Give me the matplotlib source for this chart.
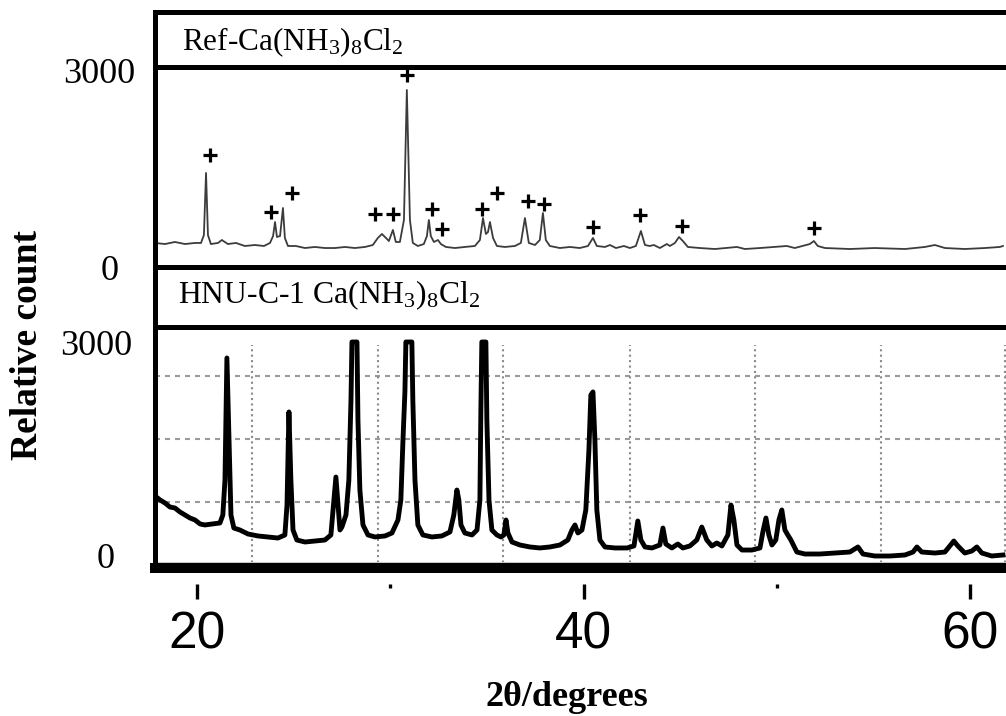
import matplotlib.pyplot as plt

plt.rcParams['font.family'] = ['Liberation Serif', 'DejaVu Serif']
plt.rcParams['mathtext.fontset'] = 'custom'
plt.rcParams['mathtext.rm'] = 'Liberation Serif'
plt.rcParams['mathtext.it'] = 'Liberation Serif:italic'
plt.rcParams['mathtext.bf'] = 'Liberation Serif:bold'

# reference pattern (2theta in degrees, relative count)
ref_2theta = [17.83, 18.35, 18.86, 19.38, 19.90, 20.21, 20.36, 20.47, 20.57, 20.72,
              21.09, 21.29, 21.60, 22.02, 22.48, 23.00, 23.47, 23.78, 23.94, 24.04,
              24.14, 24.30, 24.45, 24.55, 24.71, 25.12, 25.59, 26.10, 26.62, 27.14,
              27.66, 28.17, 28.69, 29.10, 29.36, 29.57, 29.78, 29.93, 30.14, 30.29,
              30.50, 30.71, 30.86, 31.02, 31.17, 31.43, 31.74, 31.90, 32.00, 32.10,
              32.26, 32.47, 32.62, 32.88, 33.35, 33.86, 34.38, 34.64, 34.80, 34.95,
              35.06, 35.16, 35.32, 35.52, 35.93, 36.45, 36.76, 36.97, 37.17, 37.49,
              37.74, 37.90, 38.05, 38.26, 38.78, 39.30, 39.81, 40.23, 40.49, 40.69,
              41.11, 41.37, 41.68, 42.09, 42.40, 42.71, 42.97, 43.18, 43.43, 43.64,
              43.95, 44.31, 44.47, 44.73, 44.94, 45.14, 45.40, 46.02, 46.80, 47.94,
              48.35, 49.13, 50.52, 50.93, 51.71, 51.92, 52.12, 52.49, 53.78, 55.07,
              56.63, 57.66, 58.18, 58.70, 59.73, 60.77, 61.54, 61.70]
ref_counts = [366, 350, 381, 350, 366, 366, 487, 1432, 487, 350,
              366, 411, 350, 366, 320, 335, 320, 366, 472, 685,
              457, 472, 899, 442, 320, 320, 289, 305, 289, 289,
              305, 289, 305, 335, 442, 503, 442, 396, 564, 381,
              381, 716, 2696, 716, 366, 320, 350, 472, 716, 472,
              381, 411, 350, 305, 289, 305, 320, 411, 746, 503,
              533, 685, 442, 320, 305, 320, 366, 746, 366, 335,
              411, 822, 411, 320, 289, 305, 289, 320, 442, 320,
              305, 335, 289, 320, 289, 320, 548, 335, 320, 335,
              289, 350, 320, 366, 457, 396, 305, 289, 274, 305,
              274, 289, 320, 289, 350, 396, 320, 289, 274, 289,
              274, 305, 335, 289, 274, 289, 305, 320]

# "+" marks over the indexed reflections
mark_2theta = [20.67, 23.83, 24.91, 29.21, 30.14, 30.86, 32.16, 32.67,
               34.74, 35.52, 37.12, 37.95, 40.49, 42.92, 45.09, 51.92]
mark_counts = [1706, 838, 1127, 807, 807, 2924, 883, 579,
               883, 1127, 1005, 960, 609, 792, 624, 594]

# measured HNU-C-1 sample (tops saturate near 3000)
hnu_2theta = [17.83, 18.09, 18.35, 18.60, 18.86, 19.12, 19.38, 19.64, 19.90, 20.16,
              20.41, 20.78, 21.19, 21.34, 21.45, 21.55, 21.66, 21.76, 21.91, 22.22,
              22.64, 23.16, 23.67, 24.19, 24.55, 24.66, 24.76, 24.86, 24.97, 25.17,
              25.59, 26.10, 26.62, 26.93, 27.09, 27.19, 27.30, 27.40, 27.50, 27.71,
              27.86, 27.97, 28.02, 28.28, 28.33, 28.43, 28.59, 28.85, 29.21, 29.73,
              30.09, 30.40, 30.55, 30.66, 30.76, 30.81, 31.12, 31.17, 31.28, 31.43,
              31.69, 32.16, 32.67, 33.09, 33.29, 33.45, 33.55, 33.66, 33.86, 34.23,
              34.49, 34.64, 34.69, 34.74, 34.95, 35.00, 35.11, 35.26, 35.52, 35.73,
              35.88, 35.99, 36.09, 36.30, 36.71, 37.23, 37.74, 38.26, 38.78, 39.19,
              39.40, 39.56, 39.71, 39.92, 40.12, 40.28, 40.38, 40.49, 40.59, 40.69,
              40.85, 41.11, 41.63, 42.25, 42.61, 42.81, 42.97, 43.18, 43.54, 43.95,
              44.11, 44.26, 44.57, 44.88, 45.14, 45.50, 45.86, 46.12, 46.38, 46.64,
              46.90, 47.16, 47.47, 47.63, 47.78, 47.94, 48.20, 48.71, 49.13, 49.28,
              49.44, 49.59, 49.75, 49.95, 50.11, 50.26, 50.42, 50.57, 50.73, 51.04,
              51.45, 52.23, 53.00, 53.78, 54.20, 54.46, 55.07, 55.85, 56.63, 57.05,
              57.25, 57.50, 58.18, 58.70, 58.95, 59.16, 59.37, 59.73, 60.09, 60.35,
              60.61, 61.12, 61.70]
hnu_counts = [845, 789, 746, 690, 676, 620, 577, 535, 507, 451,
              437, 451, 465, 577, 1070, 2788, 1633, 577, 394, 366,
              310, 282, 268, 253, 296, 718, 2028, 1070, 366, 225,
              197, 211, 225, 296, 789, 1112, 718, 366, 408, 577,
              1070, 2197, 3013, 3013, 1915, 929, 437, 296, 268, 282,
              324, 507, 789, 1633, 2310, 3013, 3013, 2197, 1070, 437,
              296, 268, 282, 338, 577, 929, 789, 437, 324, 296,
              366, 789, 2056, 3013, 3013, 1915, 789, 366, 296, 268,
              296, 507, 324, 197, 155, 127, 113, 127, 155, 225,
              366, 437, 324, 366, 648, 1492, 2267, 2310, 1633, 648,
              225, 127, 113, 113, 141, 493, 225, 127, 113, 155,
              394, 169, 113, 169, 113, 141, 225, 408, 225, 141,
              183, 141, 296, 718, 507, 155, 84, 84, 113, 338,
              535, 296, 155, 225, 507, 648, 366, 296, 225, 56,
              28, 28, 42, 56, 127, 28, 0, 0, 14, 56,
              127, 56, 42, 56, 141, 211, 141, 42, 70, 127,
              42, 0, 14]

# instrument grid of the sample scan
grid_2theta = [22.85, 29.36, 35.83, 42.40, 48.87, 55.39, 61.80]
grid_counts = [760, 1647, 2534]

major_ticks = [20, 40, 60]
minor_ticks = [30, 50]
ref_title = r'Ref-Ca(NH$_3$)$_8$Cl$_2$'
hnu_title = r'HNU-C-1 Ca(NH$_3$)$_8$Cl$_2$'

W, H = 1006, 716
XLIM = (17.83, 62.17)


def px_box(x0, y0, x1, y1):
    return [x0 / W, 1 - y1 / H, (x1 - x0) / W, (y1 - y0) / H]


def frame(ax, lw=3.6):
    ax.set_xticks([])
    ax.set_yticks([])
    for s in ax.spines.values():
        s.set_linewidth(lw)
        s.set_color('black')


fig = plt.figure(figsize=(W / 100, H / 100), dpi=100)

ax_rl = fig.add_axes(px_box(155, 12, 1012, 67))
ax_ref = fig.add_axes(px_box(155, 67, 1012, 267))
ax_hl = fig.add_axes(px_box(155, 267, 1012, 327))
ax_hnu = fig.add_axes(px_box(155, 327, 1012, 568))
ax_scale = fig.add_axes(px_box(155, 583, 1012, 584))

for ax in (ax_rl, ax_ref, ax_hl, ax_hnu):
    frame(ax)
ax_hnu.spines['bottom'].set_linewidth(7.2)

ax_rl.text(0.031, 0.30, ref_title, transform=ax_rl.transAxes, fontsize=22.5, va='baseline')
ax_hl.text(0.027, 0.40, hnu_title, transform=ax_hl.transAxes, fontsize=22.8, va='baseline')

# reference pattern
ax_ref.plot(ref_2theta, ref_counts, color='#3c3c3c', lw=1.3)
ax_ref.plot(mark_2theta, mark_counts, ls='none', marker='+', ms=10, mew=2.3, color='black')
ax_ref.set_xlim(*XLIM)
ax_ref.set_ylim(0, 3046)

# sample pattern with its dotted grid
for g in grid_counts:
    ax_hnu.axhline(g, color='#9a9a9a', lw=1.5, dashes=(2.4, 2.4), zorder=1)
ax_hnu.vlines(grid_2theta, -169, 2971, color='#8a8a8a', lw=1.5, linestyles=(0, (1, 1.6)), zorder=1)
ax_hnu.axhline(-84, color='#c8c8c8', lw=0.8, zorder=1)
ax_hnu.plot(hnu_2theta, hnu_counts, color='black', lw=3.5, zorder=3)
ax_hnu.set_xlim(*XLIM)
ax_hnu.set_ylim(-169, 3224)

# y labels, placed per panel
ylab = dict(fontsize=26, ha='right', va='center_baseline')
ax_ref.text(-0.023, 3000, '3000', transform=ax_ref.get_yaxis_transform(), **ylab)
ax_ref.text(-0.043, 0, '0', transform=ax_ref.get_yaxis_transform(), **ylab)
ax_hnu.text(-0.026, 3000, '3000', transform=ax_hnu.get_yaxis_transform(), **ylab)
ax_hnu.text(-0.047, 0, '0', transform=ax_hnu.get_yaxis_transform(), **ylab)

# detached 2theta scale under the panels
ax_scale.set_xlim(*XLIM)
ax_scale.set_ylim(0, 1)
ax_scale.set_yticks([])
for s in ax_scale.spines.values():
    s.set_visible(False)
ax_scale.set_xticks(major_ticks)
ax_scale.set_xticklabels([str(t) for t in major_ticks], family='Liberation Sans', fontsize=37)
ax_scale.set_xticks(minor_ticks, minor=True)
ax_scale.tick_params(axis='x', which='major', direction='out', length=11, width=2.4, pad=8)
ax_scale.tick_params(axis='x', which='minor', direction='out', length=3, width=2.4)
ax_scale.patch.set_visible(False)

fig.text(28 / W, 1 - 345 / H, 'Relative count', rotation=90, fontsize=27,
         fontweight='bold', ha='center', va='center')
fig.text(567 / W, 1 - 697 / H, '2θ/degrees', fontsize=26, fontweight='bold',
         ha='center', va='center')

fig.savefig('out.png', dpi=100)
